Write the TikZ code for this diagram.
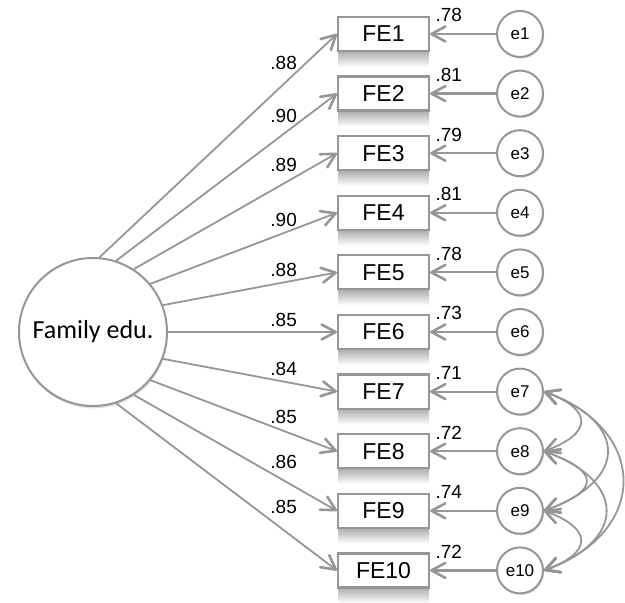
\documentclass[tikz,border=0pt]{standalone}
\usepackage{fontspec}
\setmainfont{Liberation Sans}
\newfontfamily\latentfont{Carlito}
\usepackage{tikz}
\usetikzlibrary{positioning}
\usetikzlibrary{arrows.meta,shadows,fadings}

\definecolor{pathgray}{RGB}{150,150,150}

\tikzset{
  barb/.tip={Straight Barb[length=7pt,width=7.5pt,line width'=1.3pt,round]},
  obs/.style={draw=pathgray,line width=1.1pt,fill=white,minimum width=45.5pt,minimum height=17pt,inner sep=0pt,font=\fontsize{11.5}{12}\selectfont},
  err/.style={circle,draw=pathgray,line width=1pt,fill=white,minimum size=23pt,inner sep=0pt,font=\fontsize{8.5}{9}\selectfont,
    drop shadow={opacity=0.25,shadow xshift=0.6pt,shadow yshift=-0.8pt}},
  lat/.style={circle,draw=pathgray,line width=1pt,fill=white,minimum size=74pt,inner sep=0pt,font=\latentfont\fontsize{13}{14}\selectfont,
    drop shadow={opacity=0.25,shadow xshift=0.4pt,shadow yshift=-1.2pt}},
  load/.style={draw=pathgray,line width=0.9pt,-barb},
  resid/.style={draw=pathgray,line width=1.1pt,-barb},
  cov/.style={draw=pathgray,line width=0.9pt,barb-barb},
  coef/.style={inner sep=0pt,font=\fontsize{9.5}{10}\selectfont},
}

\begin{document}
\begin{tikzpicture}[x=0.5pt,y=-0.5pt]
\useasboundingbox (0,0) rectangle (625,603);

\node[lat] (fam) at (93,332) {Family edu.};

\foreach \i/\ang/\lo/\ly/\re in {1/85/.88/70/.78, 2/72/.90/123/.81, 3/57/.89/172/.79,
    4/40/.90/227/.81, 5/21/.88/277/.78, 6/0/.85/327/.73, 7/-21/.84/375/.71,
    8/-40/.85/423/.72, 9/-57/.86/468/.74, 10/-72/.85/513/.72}
{
  \pgfmathsetmacro{\yy}{34+59.6*(\i-1)}
  % reflection under the box
  \shade[left color=gray!65,middle color=white,right color=gray!65,path fading=south]
    (338,\yy+17) rectangle (429,\yy+33);
  \node[obs] (fe\i) at (383.5,\yy) {FE\i};
  \node[err] (e\i) at (520,\yy) {e\i};
  \draw[load] (fam.\ang) -- (fe\i.west);
  \draw[resid] (e\i) -- (fe\i);
  \node[coef,anchor=base west] (l\i) at (270,\ly) {\lo};
  \node[coef,anchor=base west] (r\i) at ([xshift=2.5pt,yshift=-3pt]fe\i.north east) {\re};
}

% covariances
\draw[cov] (e7.east) .. controls +(-20:26pt) and +(20:26pt) .. (e8.east);
\draw[cov] (e7.east) .. controls +(-20:45pt) and +(20:45pt) .. (e9.east);
\draw[cov] (e7.east) .. controls +(-20:56pt) and +(20:56pt) .. (e10.east);
\draw[cov] (e8.east) .. controls +(-20:30pt) and +(20:30pt) .. (e9.east);
\draw[cov] (e8.east) .. controls +(-20:44pt) and +(20:44pt) .. (e10.east);
\draw[cov] (e9.east) .. controls +(-20:26pt) and +(20:26pt) .. (e10.east);
\end{tikzpicture}
\end{document}
